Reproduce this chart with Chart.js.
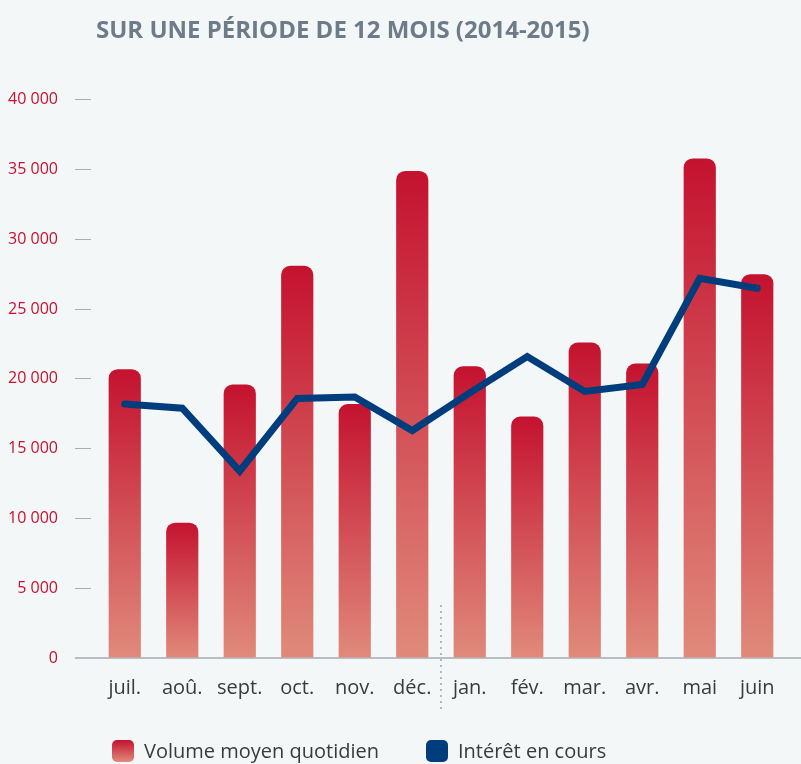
<!DOCTYPE html>
<html lang="fr">
<head>
<meta charset="utf-8">
<title>Sur une période de 12 mois (2014-2015)</title>
<script src="https://cdn.jsdelivr.net/npm/chart.js@4.4.1/dist/chart.umd.min.js"></script>
<style>
  html, body { margin: 0; padding: 0; background: #F4F7F8; }
  #cadre { position: relative; width: 801px; height: 764px; overflow: hidden; }
  #legende {
    position: absolute; left: 112px; top: 739px; margin: 0; padding: 0;
    list-style: none; display: flex;
    font-family: "Open Sans", sans-serif; font-size: 20px; color: #3A3A3A;
  }
  #legende li { display: flex; align-items: center; margin-right: 47px; line-height: 24px; }
  #legende .boite { width: 22px; height: 22px; border-radius: 5px; margin-right: 10px; }
</style>
</head>
<body>
<div id="cadre">
  <canvas id="volume-interet" width="801" height="764"></canvas>
  <ul id="legende"></ul>
</div>
<script>
var mois = ["juil.", "aoû.", "sept.", "oct.", "nov.", "déc.", "jan.", "fév.", "mar.", "avr.", "mai", "juin"];
var volumeMoyen = [20700, 9700, 19600, 28100, 18200, 34900, 20900, 17300, 22600, 21100, 35800, 27500];
var interetEnCours = [18200, 17900, 13400, 18600, 18700, 16300, 19000, 21600, 19100, 19600, 27200, 26500];
var yMax = 40000;
var yPas = 5000;

var rougeHaut = "#C4122F";
var rougeBas = "#E08A7B";
var bleu = "#003D7C";

function milliers(v) {
    return String(v).replace(/\B(?=(\d{3})+(?!\d))/g, " ");
}

// degrade par barre, du haut de la barre jusqu'a zero
function degradeBarre(c) {
    var chart = c.chart;
    if (!chart.chartArea || c.type !== "data") return rougeHaut;
    var y = chart.scales.y;
    var g = chart.ctx.createLinearGradient(0, y.getPixelForValue(c.raw), 0, y.getPixelForValue(0));
    g.addColorStop(0, rougeHaut);
    g.addColorStop(1, rougeBas);
    return g;
}

// ligne de base + separateur pointille entre les deux annees
var traits = {
    id: "traits",
    beforeDatasetsDraw: function (chart) {
        var ctx = chart.ctx;
        var y0 = chart.scales.y.getPixelForValue(0);
        ctx.save();
        ctx.strokeStyle = "#B9BEC3";
        ctx.lineWidth = 2;
        ctx.beginPath();
        ctx.moveTo(chart.chartArea.left - 21, y0);
        ctx.lineTo(chart.width, y0);
        ctx.stroke();
        ctx.restore();
    },
    afterDraw: function (chart) {
        var ctx = chart.ctx;
        var x = (chart.scales.x.getPixelForValue(5) + chart.scales.x.getPixelForValue(6)) / 2;
        var y0 = chart.scales.y.getPixelForValue(0);
        ctx.save();
        ctx.strokeStyle = "#9EA3A8";
        ctx.lineWidth = 1.5;
        ctx.setLineDash([2, 4]);
        ctx.beginPath();
        ctx.moveTo(x, y0 - 53);
        ctx.lineTo(x, y0 + 52);
        ctx.stroke();
        ctx.restore();
    },
};

var graphique = new Chart(document.getElementById("volume-interet").getContext("2d"), {
    type: "bar",
    data: {
        labels: mois,
        datasets: [
            {
                label: "Volume moyen quotidien",
                data: volumeMoyen,
                backgroundColor: degradeBarre,
                borderWidth: 0,
                borderRadius: { topLeft: 9, topRight: 9, bottomLeft: 0, bottomRight: 0 },
                borderSkipped: "start",
                barPercentage: 0.56,
                categoryPercentage: 1.0,
                order: 1,
            },
            {
                type: "line",
                label: "Intérêt en cours",
                data: interetEnCours,
                borderColor: bleu,
                backgroundColor: bleu,
                borderWidth: 7,
                borderCapStyle: "round",
                pointRadius: 0,
                tension: 0,
                order: 0,
            },
        ],
    },
    options: {
        responsive: false,
        animation: false,
        events: [],
        layout: { padding: { left: 0, right: 15, top: 0, bottom: 46 } },
        plugins: {
            legend: { display: false },
            tooltip: { enabled: false },
            title: {
                display: true,
                text: "SUR UNE PÉRIODE DE 12 MOIS (2014-2015)",
                align: "start",
                fullSize: false,
                color: "#6E7C89",
                font: { family: "Open Sans", size: 24, weight: "bold" },
                padding: { top: 17, bottom: 54 },
            },
        },
        scales: {
            x: {
                grid: { display: false, drawTicks: false },
                border: { display: false },
                ticks: {
                    color: "#3A3A3A",
                    padding: 18,
                    font: { family: "Open Sans", size: 20 },
                },
            },
            y: {
                min: 0,
                max: yMax,
                afterFit: function (scale) { scale.width = 96; },
                border: { display: false },
                grid: {
                    drawOnChartArea: false,
                    drawTicks: true,
                    tickLength: 21,
                    tickColor: "#A9AEB3",
                    tickWidth: 1,
                    tickBorderDash: [16, 10],
                },
                ticks: {
                    stepSize: yPas,
                    padding: 17,
                    color: "#C8102E",
                    font: { family: "Open Sans", size: 16 },
                    callback: milliers,
                },
            },
        },
    },
    plugins: [traits],
});

// legende en HTML a partir des entrees du graphique
var liste = document.getElementById("legende");
graphique.data.datasets.forEach(function (ds, i) {
    var li = document.createElement("li");
    var boite = document.createElement("span");
    boite.className = "boite";
    boite.style.background = i === 0
        ? "linear-gradient(to bottom, " + rougeHaut + ", " + rougeBas + ")"
        : bleu;
    li.appendChild(boite);
    li.appendChild(document.createTextNode(ds.label));
    liste.appendChild(li);
});
</script>
</body>
</html>
